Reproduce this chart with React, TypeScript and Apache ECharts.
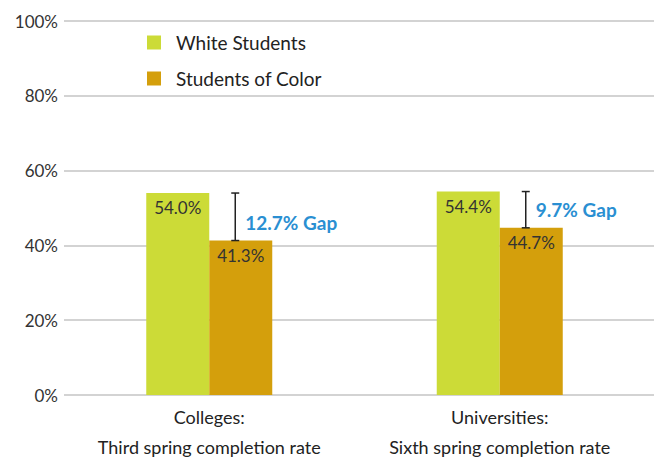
import React, { useEffect, useRef } from "react";
import * as echarts from "echarts";

const categories = ["Colleges:\nThird spring completion rate", "Universities:\nSixth spring completion rate"];
const whiteStudents = [54.0, 54.4];
const studentsOfColor = [41.3, 44.7];
const gapLabels = ["12.7% Gap", "9.7% Gap"];
const yTicks = [0, 20, 40, 60, 80, 100];

const FONT = "Lato, 'Noto Sans', sans-serif";

export default function App() {
  const ref = useRef<HTMLDivElement>(null);
  useEffect(() => {
    if (!ref.current) return;
    const chart = echarts.init(ref.current, undefined, { renderer: "svg" });
    const gapData = categories.map((_, i) => [i, whiteStudents[i], studentsOfColor[i], gapLabels[i]]);
    const barLabel = {
      show: true,
      position: "insideTop",
      distance: 6,
      formatter: (p: any) => p.value.toFixed(1) + "%",
      fontSize: 17,
      color: "#333",
      fontFamily: FONT,
    };
    chart.setOption({
      animation: false,
      textStyle: { fontFamily: FONT },
      grid: [
        { left: 64, right: 0, top: 21, bottom: 64, containLabel: false, outerBoundsMode: "none" },
        { left: 64, right: 9, top: 21, bottom: 64, containLabel: false, outerBoundsMode: "none" },
      ],
      legend: {
        orient: "vertical",
        left: 142,
        top: 28,
        itemWidth: 14,
        itemHeight: 14,
        itemGap: 17,
        icon: "rect",
        data: ["White Students", "Students of Color"],
        textStyle: { fontSize: 19, color: "#222", fontFamily: FONT, padding: [0, 0, 0, 10] },
      },
      xAxis: [
        {
          type: "category",
          gridIndex: 0,
          data: categories,
          show: false,
        },
        {
          type: "category",
          gridIndex: 1,
          data: categories,
          axisLine: { show: false },
          axisTick: { show: false },
          axisLabel: { fontSize: 18, color: "#222", lineHeight: 30, margin: 7, fontFamily: FONT, interval: 0 },
        },
      ],
      yAxis: [
        {
          type: "value",
          gridIndex: 0,
          min: yTicks[0],
          max: yTicks[yTicks.length - 1],
          interval: 20,
          axisLine: { show: false },
          axisTick: { show: false },
          axisLabel: { formatter: "{value}%", fontSize: 17, color: "#333", margin: 6, fontFamily: FONT },
          splitLine: { lineStyle: { color: "#c4c4c4", width: 1.5 } },
        },
        {
          type: "value",
          gridIndex: 1,
          min: yTicks[0],
          max: yTicks[yTicks.length - 1],
          interval: 20,
          show: false,
          splitLine: { show: false },
        },
      ],
      series: [
        {
          name: "White Students",
          type: "bar",
          xAxisIndex: 1,
          yAxisIndex: 1,
          data: whiteStudents,
          barWidth: 63,
          barGap: "0%",
          itemStyle: { color: "#ccdb37" },
          label: barLabel,
        },
        {
          name: "Students of Color",
          type: "bar",
          xAxisIndex: 1,
          yAxisIndex: 1,
          data: studentsOfColor,
          barWidth: 63,
          itemStyle: { color: "#d49f0c" },
          label: barLabel,
        },
        {
          type: "custom",
          xAxisIndex: 1,
          yAxisIndex: 1,
          data: gapData,
          z: 10,
          renderItem: (params: any, api: any) => {
            const top = api.coord([api.value(0), api.value(1)]);
            const bot = api.coord([api.value(0), api.value(2)]);
            const x = top[0] + 26;
            const cap = 4;
            const label = gapLabels[params.dataIndex];
            const style = { stroke: "#222", lineWidth: 1.5 };
            return {
              type: "group",
              children: [
                { type: "line", shape: { x1: x, y1: top[1], x2: x, y2: bot[1] }, style },
                { type: "line", shape: { x1: x - cap, y1: top[1], x2: x + cap, y2: top[1] }, style },
                { type: "line", shape: { x1: x - cap, y1: bot[1], x2: x + cap, y2: bot[1] }, style },
                {
                  type: "text",
                  x: x + 10,
                  y: bot[1] - 18,
                  style: {
                    text: label,
                    fill: "#2a8fd2",
                    font: `bold 19px ${FONT}`,
                    verticalAlign: "middle",
                    align: "left",
                  },
                },
              ],
            };
          },
        },
      ],
    });
    return () => chart.dispose();
  }, []);
  return <div ref={ref} style={{ position: "absolute", left: 0, top: 0, width: 654, height: 459 }} />;
}
